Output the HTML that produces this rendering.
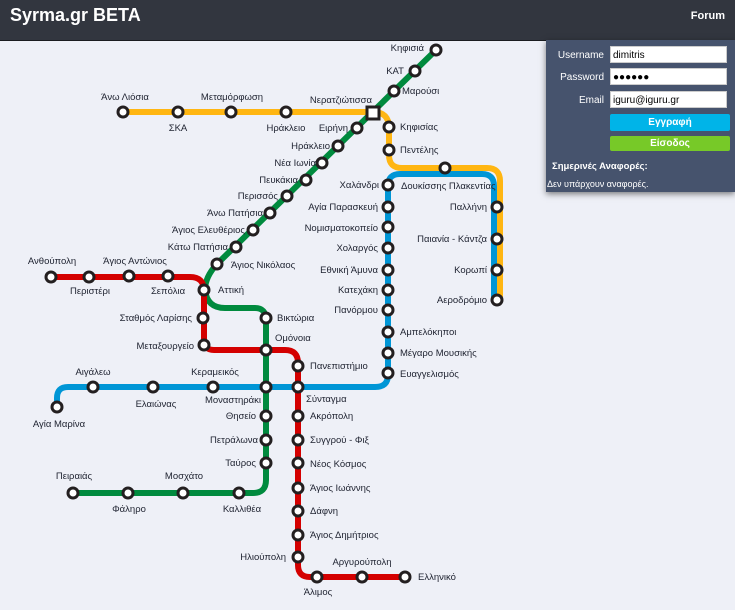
<!DOCTYPE html>
<html><head><meta charset="utf-8"><style>
body{margin:0;width:735px;height:610px;overflow:hidden;background:#eef0f7;font-family:"Liberation Sans","DejaVu Sans",sans-serif;}
#hd{position:absolute;left:0;top:0;width:735px;height:40px;background:#32363f;border-bottom:1px solid #1a1c20;}
#hd .t{position:absolute;left:10px;top:5px;color:#fff;font-weight:bold;font-size:18px;}
#hd .f{position:absolute;right:10px;top:10px;color:#fff;font-weight:bold;font-size:11px;}
#pn{position:absolute;left:546px;top:40px;width:189px;height:152px;background:#46536d;box-shadow:0 2px 6px rgba(0,0,0,.5);color:#fff;font-size:10px;}
#pn .l{position:absolute;right:131px;text-align:right;}
#pn .i{position:absolute;left:64px;width:117px;height:17px;background:#fff;border:1px solid #ccc;color:#000;font-size:10px;line-height:17px;padding-left:2px;box-sizing:border-box;}
#pn .b{position:absolute;left:64px;width:120px;height:17px;text-align:center;font-weight:bold;font-size:10px;line-height:17px;border-radius:2px;}
svg{position:absolute;left:0;top:0;}
svg text{font-family:"Liberation Sans","DejaVu Sans",sans-serif;font-size:9.5px;fill:#1e2230;}
</style></head><body>
<div id="hd"><div class="t">Syrma.gr BETA</div><div class="f">Forum</div></div>
<svg width="735" height="610">
<g fill="none" stroke-width="6" stroke-linejoin="round">
<path stroke="#ffb612" d="M123,112 L373,112 Q389,112 389,128 L389,155 Q389,168 402,168 L487,168 Q500,168 500,181 L500,300"/>
<path stroke="#0096d6" d="M57,407 L57,398 Q57,387 68,387 L375,387 Q388,387 388,375 L388,186 Q388,174 400,174 L482,174 Q494,174 494,186 L494,300"/>
<path stroke="#008a3e" d="M436,50 L217,264 Q205,277 205,290 Q207,308 225,308 L255,308 Q266,308 266,320 L266,480 Q266,493 253,493 L73,493"/>
<path stroke="#d40000" d="M51,277 L190,277 Q204,277 204,291 L204,340 Q204,350 214,350 L285,350 Q298,350 298,363 L298,565 Q298,577 310,577 L405,577"/>
</g>
<g fill="#fff" stroke="#231f20" stroke-width="3">
<circle cx="436" cy="50" r="5"/><circle cx="415" cy="71" r="5"/><circle cx="394" cy="91" r="5"/><rect x="367" y="107" width="12" height="12"/>
<circle cx="357" cy="128" r="5"/><circle cx="338" cy="146" r="5"/><circle cx="322" cy="163" r="5"/><circle cx="306" cy="180" r="5"/><circle cx="287" cy="196" r="5"/>
<circle cx="270" cy="213" r="5"/><circle cx="253" cy="230" r="5"/><circle cx="236" cy="247" r="5"/><circle cx="217" cy="264" r="5"/><circle cx="204" cy="290" r="5"/>
<circle cx="266" cy="318" r="5"/><circle cx="266" cy="350" r="5"/><circle cx="266" cy="387" r="5"/><circle cx="266" cy="416" r="5"/><circle cx="266" cy="440" r="5"/><circle cx="266" cy="463" r="5"/>
<circle cx="239" cy="493" r="5"/><circle cx="183" cy="493" r="5"/><circle cx="128" cy="493" r="5"/><circle cx="73" cy="493" r="5"/>
<circle cx="123" cy="112" r="5"/><circle cx="178" cy="112" r="5"/><circle cx="231" cy="112" r="5"/><circle cx="286" cy="112" r="5"/>
<circle cx="389" cy="127" r="5"/><circle cx="389" cy="150" r="5"/><circle cx="445" cy="168" r="5"/>
<circle cx="497" cy="207" r="5"/><circle cx="497" cy="239" r="5"/><circle cx="497" cy="270" r="5"/><circle cx="497" cy="300" r="5"/>
<circle cx="388" cy="185" r="5"/><circle cx="388" cy="207" r="5"/><circle cx="388" cy="227" r="5"/><circle cx="388" cy="248" r="5"/><circle cx="388" cy="270" r="5"/><circle cx="388" cy="290" r="5"/><circle cx="388" cy="310" r="5"/><circle cx="388" cy="332" r="5"/><circle cx="388" cy="353" r="5"/><circle cx="388" cy="373" r="5"/>
<circle cx="57" cy="407" r="5"/><circle cx="93" cy="387" r="5"/><circle cx="153" cy="387" r="5"/><circle cx="213" cy="387" r="5"/><circle cx="298" cy="387" r="5"/>
<circle cx="51" cy="277" r="5"/><circle cx="89" cy="277" r="5"/><circle cx="129" cy="276" r="5"/><circle cx="168" cy="276" r="5"/><circle cx="203" cy="318" r="5"/><circle cx="204" cy="345" r="5"/>
<circle cx="298" cy="366" r="5"/><circle cx="298" cy="416" r="5"/><circle cx="298" cy="440" r="5"/><circle cx="298" cy="463" r="5"/><circle cx="298" cy="488" r="5"/><circle cx="298" cy="511" r="5"/><circle cx="298" cy="535" r="5"/><circle cx="298" cy="557" r="5"/>
<circle cx="317" cy="577" r="5"/><circle cx="362" cy="577" r="5"/><circle cx="405" cy="577" r="5"/>
</g>
<g text-anchor="end">
<text x="424" y="51">Κηφισιά</text><text x="404" y="74">ΚΑΤ</text><text x="372" y="103">Νερατζιώτισσα</text>
<text x="348" y="131">Ειρήνη</text><text x="330" y="149">Ηράκλειο</text><text x="316" y="166">Νέα Ιωνία</text><text x="298" y="183">Πευκάκια</text><text x="278" y="199">Περισσός</text>
<text x="263" y="216">Άνω Πατήσια</text><text x="245" y="233">Άγιος Ελευθέριος</text><text x="228" y="250">Κάτω Πατήσια</text>
<text x="379" y="188">Χαλάνδρι</text><text x="378" y="210">Αγία Παρασκευή</text><text x="378" y="231">Νομισματοκοπείο</text><text x="378" y="251">Χολαργός</text><text x="378" y="273">Εθνική Άμυνα</text><text x="378" y="293">Κατεχάκη</text><text x="378" y="313">Πανόρμου</text>
<text x="487" y="210">Παλλήνη</text><text x="487" y="242">Παιανία - Κάντζα</text><text x="487" y="273">Κορωπί</text><text x="487" y="303">Αεροδρόμιο</text>
<text x="192" y="321">Σταθμός Λαρίσης</text><text x="194" y="349">Μεταξουργείο</text>
<text x="256" y="419">Θησείο</text><text x="258" y="443">Πετράλωνα</text><text x="256" y="466">Ταύρος</text><text x="286" y="560">Ηλιούπολη</text>
</g>
<g>
<text x="402" y="94">Μαρούσι</text><text x="231" y="268">Άγιος Νικόλαος</text><text x="218" y="293">Αττική</text>
<text x="400" y="130">Κηφισίας</text><text x="400" y="153">Πεντέλης</text><text x="401" y="189">Δουκίσσης Πλακεντίας</text>
<text x="400" y="335">Αμπελόκηποι</text><text x="400" y="356">Μέγαρο Μουσικής</text><text x="400" y="377">Ευαγγελισμός</text>
<text x="277" y="321">Βικτώρια</text><text x="275" y="341">Ομόνοια</text><text x="310" y="369">Πανεπιστήμιο</text><text x="306" y="402">Σύνταγμα</text>
<text x="310" y="419">Ακρόπολη</text><text x="310" y="443">Συγγρού - Φιξ</text><text x="310" y="467">Νέος Κόσμος</text><text x="310" y="491">Άγιος Ιωάννης</text><text x="310" y="514">Δάφνη</text><text x="310" y="538">Άγιος Δημήτριος</text>
<text x="418" y="580">Ελληνικό</text>
</g>
<g text-anchor="middle">
<text x="125" y="100">Άνω Λιόσια</text><text x="178" y="131">ΣΚΑ</text><text x="232" y="100">Μεταμόρφωση</text><text x="286" y="131">Ηράκλειο</text>
<text x="52" y="264">Ανθούπολη</text><text x="90" y="294">Περιστέρι</text><text x="135" y="264">Άγιος Αντώνιος</text><text x="168" y="294">Σεπόλια</text>
<text x="93" y="375">Αιγάλεω</text><text x="156" y="407">Ελαιώνας</text><text x="215" y="375">Κεραμεικός</text><text x="233" y="403">Μοναστηράκι</text><text x="59" y="427">Αγία Μαρίνα</text>
<text x="74" y="479">Πειραιάς</text><text x="129" y="512">Φάληρο</text><text x="184" y="479">Μοσχάτο</text><text x="242" y="512">Καλλιθέα</text>
<text x="318" y="595">Άλιμος</text><text x="362" y="565">Αργυρούπολη</text>
</g>
</svg>
<div id="pn">
<div class="l" style="top:10px">Username</div><div class="i" style="top:6px">dimitris</div>
<div class="l" style="top:32px">Password</div><div class="i" style="top:28px">●●●●●●</div>
<div class="l" style="top:55px">Email</div><div class="i" style="top:51px">iguru@iguru.gr</div>
<div class="b" style="top:74px;background:#00b4e8">Εγγραφή</div>
<div class="b" style="top:96px;height:15px;line-height:15px;background:#77c928">Είσοδος</div>
<div style="position:absolute;left:6px;top:121px;font-weight:bold;font-size:9.5px">Σημερινές Αναφορές:</div>
<div style="position:absolute;left:1px;top:139px;font-size:9px">Δεν υπάρχουν αναφορές.</div>
</div>
</body></html>
